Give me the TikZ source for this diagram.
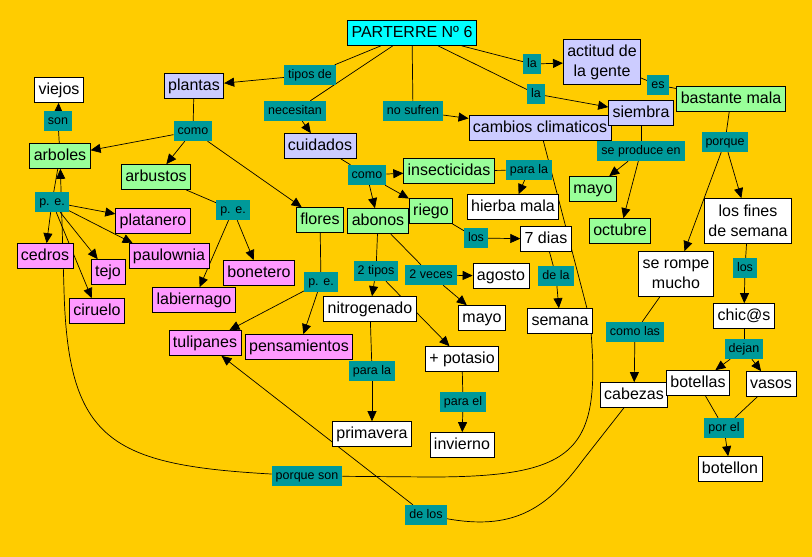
\documentclass[tikz,border=0pt]{standalone}
\usepackage{fontspec}
\setmainfont{Liberation Sans}
\usepackage{tikz}
\usetikzlibrary{arrows.meta}

\definecolor{cmfondo}{RGB}{255,204,0}
\definecolor{cmenlace}{RGB}{0,153,153}
\definecolor{cmlila}{RGB}{204,204,255}
\definecolor{cmverde}{RGB}{153,255,153}
\definecolor{cmrosa}{RGB}{255,153,255}
\definecolor{cmcian}{RGB}{0,255,255}

\pgfdeclarelayer{papel}
\pgfdeclarelayer{lineas}
\pgfsetlayers{papel,lineas,main}

\begin{document}
\begin{tikzpicture}[x=1pt,y=-1pt]
\tikzstyle{concepto}=[draw,line width=0.7pt,fill=white,font=\fontsize{16}{19}\selectfont,inner xsep=4pt,inner ysep=0pt,minimum height=25pt,text height=11.5pt,text depth=3.5pt];
\tikzstyle{concepto2}=[draw,line width=0.7pt,fill=white,font=\fontsize{16}{20}\selectfont,align=center,inner xsep=4pt,inner ysep=0pt,minimum height=45pt];
\tikzstyle{enlace}=[fill=cmenlace,font=\fontsize{12.5}{14}\selectfont,inner xsep=4pt,inner ysep=0pt,minimum height=20pt,text height=9pt,text depth=2.5pt];
\tikzstyle{flecha}=[-{Triangle[length=10pt,width=9pt]}];
\begin{pgfonlayer}{papel}
\fill[cmfondo] (0,0) rectangle (812,557);
\end{pgfonlayer}
% conceptos
\node[concepto,fill=cmcian] (parterre) at (412,33) {PARTERRE Nº 6};
\node[concepto,fill=cmlila] (plantas) at (194,86) {plantas};
\node[concepto,fill=cmlila] (cuidados) at (320,146) {cuidados};
\node[concepto,fill=cmlila] (cambios) at (540,128) {cambios climaticos};
\node[concepto2,fill=cmlila] (actitud) at (602,62) {actitud de\\la gente};
\node[concepto,fill=cmlila] (siembra) at (641,113) {siembra};
\node[concepto,fill=cmverde] (bastante) at (731,99) {bastante mala};
\node[concepto] (viejos) at (59,90) {viejos};
\node[concepto,fill=cmverde] (arboles) at (60,156) {arboles};
\node[concepto,fill=cmverde] (arbustos) at (156,177) {arbustos};
\node[concepto,fill=cmverde] (flores) at (320,220) {flores};
\node[concepto,fill=cmverde] (abonos) at (378,221) {abonos};
\node[concepto,fill=cmverde] (riego) at (431,211) {riego};
\node[concepto,fill=cmverde] (insecticidas) at (449,171) {insecticidas};
\node[concepto,fill=cmverde] (mayoV) at (593,189) {mayo};
\node[concepto,fill=cmverde] (octubre) at (620,231) {octubre};
\node[concepto,fill=cmrosa] (platanero) at (153,221) {platanero};
\node[concepto,fill=cmrosa] (cedros) at (45,256) {cedros};
\node[concepto,fill=cmrosa] (paulownia) at (169,256) {paulownia};
\node[concepto,fill=cmrosa] (tejo) at (108,272) {tejo};
\node[concepto,fill=cmrosa] (ciruelo) at (97,311) {ciruelo};
\node[concepto,fill=cmrosa] (bonetero) at (259,273) {bonetero};
\node[concepto,fill=cmrosa] (labiernago) at (194,300) {labiernago};
\node[concepto,fill=cmrosa] (tulipanes) at (205,343) {tulipanes};
\node[concepto,fill=cmrosa] (pensamientos) at (299,347) {pensamientos};
\node[concepto] (hierba) at (513,207) {hierba mala};
\node[concepto] (dias) at (546,239) {7 dias};
\node[concepto] (agosto) at (501,276) {agosto};
\node[concepto] (mayoB) at (482,318) {mayo};
\node[concepto] (nitrogenado) at (370,309) {nitrogenado};
\node[concepto] (potasio) at (462,359) {+ potasio};
\node[concepto] (invierno) at (462,445) {invierno};
\node[concepto] (primavera) at (372,434) {primavera};
\node[concepto] (semana) at (560,321) {semana};
\node[concepto2] (fines) at (748,221) {los fines\\de semana};
\node[concepto2] (rompe) at (676,274) {se rompe\\mucho};
\node[concepto] (chicos) at (744,316) {chic@s};
\node[concepto] (cabezas) at (634,395) {cabezas};
\node[concepto] (botellas) at (698,383) {botellas};
\node[concepto] (vasos) at (771,384) {vasos};
\node[concepto] (botellon) at (730,469) {botellon};
% enlaces
\node[enlace] (tiposde) at (310,75) {tipos de};
\node[enlace] (necesitan) at (295,111) {necesitan};
\node[enlace] (nosufren) at (413,111) {no sufren};
\node[enlace] (la1) at (532,64) {la};
\node[enlace] (la2) at (536,94) {la};
\node[enlace] (es) at (658,85) {es};
\node[enlace] (porque) at (725,142) {porque};
\node[enlace] (seproduce) at (641,151) {se produce en};
\node[enlace] (como1) at (193,131) {como};
\node[enlace] (son) at (58,121) {son};
\node[enlace] (pe1) at (52,202) {p. e.};
\node[enlace] (pe2) at (233,210) {p. e.};
\node[enlace] (pe3) at (321,282) {p. e.};
\node[enlace] (como2) at (367,175) {como};
\node[enlace] (parala1) at (529,170) {para la};
\node[enlace] (los1) at (476,238) {los};
\node[enlace] (dela) at (556,276) {de la};
\node[enlace] (dostipos) at (376,271) {2 tipos};
\node[enlace] (dosveces) at (431,275) {2 veces};
\node[enlace] (parala2) at (372,371) {para la};
\node[enlace] (parael) at (463,402) {para el};
\node[enlace] (los2) at (745,268) {los};
\node[enlace] (dejan) at (744,349) {dejan};
\node[enlace] (porel) at (724,428) {por el};
\node[enlace] (comolas) at (635,332) {como las};
\node[enlace] (porqueson) at (307,476) {porque son};
\node[enlace] (delos) at (426,515) {de los};
\begin{pgfonlayer}{lineas}
\begin{scope}[line width=0.7pt]
\draw (parterre) -- (tiposde);
\draw[flecha] (tiposde) -- (plantas);
\draw (parterre) -- (necesitan);
\draw[flecha] (necesitan) -- (cuidados);
\draw (parterre) -- (nosufren);
\draw[flecha] (nosufren) -- (cambios);
\draw (parterre) -- (la1);
\draw[flecha] (la1) -- (actitud);
\draw (parterre) -- (la2);
\draw[flecha] (la2) -- (siembra);
\draw (actitud) -- (es);
\draw (es) -- (bastante);
\draw (bastante) -- (porque);
\draw[flecha] (porque) -- (fines);
\draw[flecha] (porque) -- (rompe);
\draw (fines) -- (los2);
\draw[flecha] (los2) -- (chicos);
\draw (chicos) -- (dejan);
\draw[flecha] (dejan) -- (botellas);
\draw[flecha] (dejan) -- (vasos);
\draw (botellas) -- (porel);
\draw (vasos) -- (porel);
\draw[flecha] (porel) -- (botellon);
\draw (rompe) -- (comolas);
\draw[flecha] (comolas) -- (cabezas);
\draw (siembra) -- (seproduce);
\draw[flecha] (seproduce) -- (mayoV);
\draw[flecha] (seproduce) -- (octubre);
\draw (plantas) -- (como1);
\draw[flecha] (como1) -- (arboles);
\draw[flecha] (como1) -- (arbustos);
\draw[flecha] (como1) -- (flores);
\draw (arboles) -- (son);
\draw[flecha] (son) -- (viejos);
\draw (arboles) -- (pe1);
\draw[flecha] (pe1) -- (cedros);
\draw[flecha] (pe1) -- (platanero);
\draw[flecha] (pe1) -- ([xshift=4pt]paulownia.north west);
\draw[flecha] (pe1) -- (tejo);
\draw[flecha] (pe1) -- (ciruelo);
\draw (arbustos) -- (pe2);
\draw[flecha] (pe2) -- (labiernago);
\draw[flecha] (pe2) -- (bonetero);
\draw (flores) -- (pe3);
\draw[flecha] (pe3) -- (tulipanes);
\draw[flecha] (pe3) -- (pensamientos);
\draw (cuidados) -- (como2);
\draw[flecha] (como2) -- (insecticidas);
\draw[flecha] (como2) -- (abonos);
\draw[flecha] (como2) -- (riego);
\draw (insecticidas) -- (parala1);
\draw[flecha] (parala1) -- (hierba);
\draw (riego) -- (los1);
\draw[flecha] (los1) -- (dias);
\draw (dias) -- (dela);
\draw[flecha] (dela) -- (semana);
\draw (abonos) -- (dostipos);
\draw[flecha] (dostipos) -- (nitrogenado);
\draw[flecha] (dostipos) -- (potasio);
\draw (abonos) -- (dosveces);
\draw[flecha] (dosveces) -- (agosto);
\draw[flecha] (dosveces) -- (mayoB);
\draw (nitrogenado) -- (parala2);
\draw[flecha] (parala2) -- (primavera);
\draw (potasio) -- (parael);
\draw[flecha] (parael) -- (invierno);
% curvas largas
\draw (cambios) -- (590,320) .. controls (602,450) and (580,477) .. (430,477) -- (porqueson);
\draw[flecha] (porqueson) .. controls (110,465) and (68,440) .. (64,290) -- (arboles);
\draw (cabezas) -- (583,460) .. controls (545,512) and (510,530) .. (delos);
\draw[flecha] (delos) -- (tulipanes);
\end{scope}
\end{pgfonlayer}
\end{tikzpicture}
\end{document}
